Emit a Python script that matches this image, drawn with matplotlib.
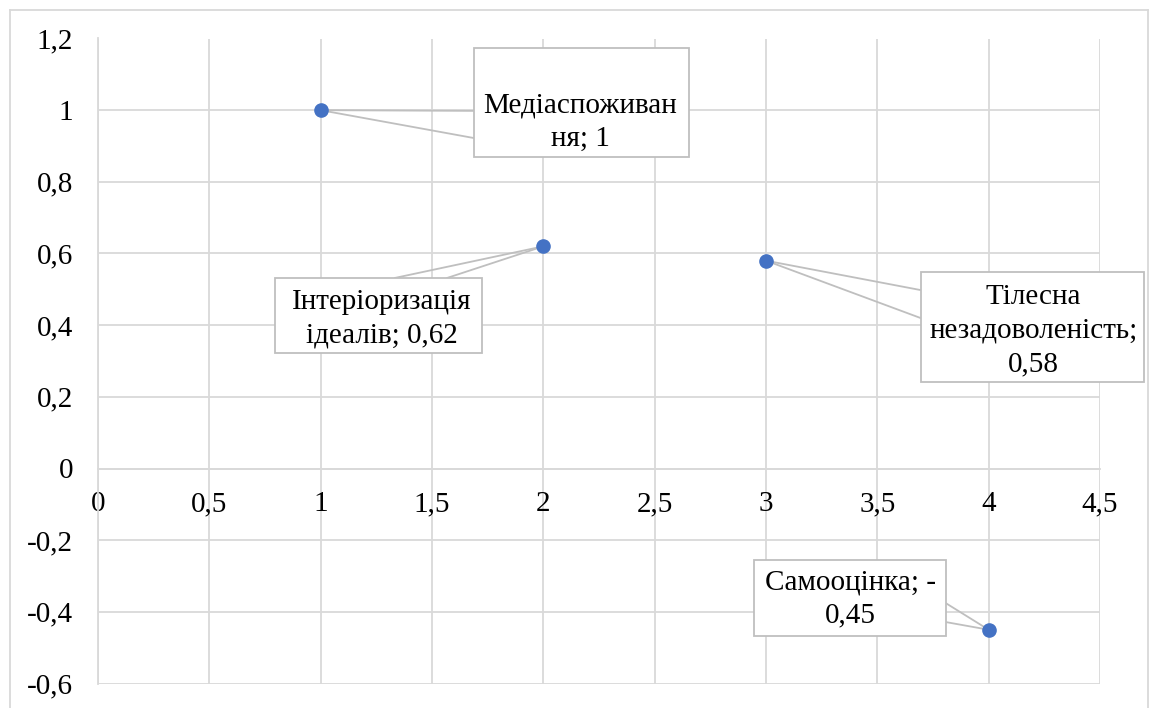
import matplotlib.pyplot as plt
from matplotlib.patches import Polygon
from matplotlib.lines import Line2D

plt.rcParams['font.family'] = ['Liberation Serif', 'DejaVu Serif']

# data
x_vals = [1, 2, 3, 4]
y_vals = [1.0, 0.62, 0.58, -0.45]
labels = ['Медіаспоживан\nня; 1',
          'Інтеріоризація\nідеалів; 0,62',
          'Тілесна\nнезадоволеність;\n0,58',
          'Самооцінка; -\n0,45']
x_ticks = [0, 0.5, 1, 1.5, 2, 2.5, 3, 3.5, 4, 4.5]
y_ticks = [-0.6, -0.4, -0.2, 0, 0.2, 0.4, 0.6, 0.8, 1.0, 1.2]

# callout boxes (x0, x1, y_bottom, y_top), text centre, pointer base points
boxes = [(1.690, 2.652, 0.869, 1.174),
         (0.796, 1.726, 0.322, 0.532),
         (3.694, 4.697, 0.241, 0.548),
         (2.948, 3.807, -0.468, -0.256)]
text_pos = [(2.166, 0.966), (1.276, 0.419), (4.202, 0.384), (3.380, -0.364)]
pointer = [[(1.690, 0.998), (1.690, 0.922)],
           [(1.335, 0.532), (1.569, 0.532)],
           [(3.694, 0.498), (3.694, 0.420)],
           [(3.807, -0.3755), (3.807, -0.4285)]]

grid_col = '#d9d9d9'
call_col = '#bfbfbf'

def fmt(v):
    s = ('%g' % v).replace('.', ',')
    return '0' if s in ('-0', '0') else s

fig = plt.figure(figsize=(11.49, 7.08), dpi=100)
W, H = 1149, 708
ax = fig.add_axes([98 / W, 1 - 683.5 / H, (1100 - 98) / W, (683.5 - 38.5) / H])
ax.set_xlim(0, 4.5)
ax.set_ylim(-0.6, 1.2)
for s in ['top', 'right']:
    ax.spines[s].set_visible(False)
ax.spines['bottom'].set_position(('data', 0))
ax.spines['bottom'].set_color(grid_col)
ax.spines['bottom'].set_linewidth(1.3)
ax.spines['left'].set_color(grid_col)
ax.spines['left'].set_linewidth(1.3)

ax.set_xticks(x_ticks)
ax.set_yticks(y_ticks)
ax.set_xticklabels([fmt(v) for v in x_ticks])
ax.set_yticklabels([fmt(v) for v in y_ticks])
ax.tick_params(axis='both', length=0, labelsize=21)
ax.tick_params(axis='y', pad=18)
ax.tick_params(axis='x', pad=16.5)
ax.grid(True, color=grid_col, linewidth=1.3)
ax.set_axisbelow(True)

for i in range(len(x_vals)):
    px, py = x_vals[i], y_vals[i]
    (a, b) = pointer[i]
    x0, x1, yb, yt = boxes[i]
    ax.plot([px, a[0]], [py, a[1]], color=call_col, lw=1.3, zorder=3, clip_on=False)
    ax.plot([px, b[0]], [py, b[1]], color=call_col, lw=1.3, zorder=3, clip_on=False)
    rect = Polygon([(x0, yb), (x1, yb), (x1, yt), (x0, yt)], closed=True,
                   facecolor='white', edgecolor=call_col, lw=1.3, zorder=4, clip_on=False)
    ax.add_patch(rect)
    tx, ty = text_pos[i]
    ax.text(tx, ty, labels[i], ha='center', va='center', fontsize=21,
            linespacing=1.38, zorder=5, clip_on=False)

ax.plot(x_vals, y_vals, 'o', color='#4472C4', markersize=9.5, zorder=6, clip_on=False)

# outer chart border
bx0, bx1, by = 10 / W, 1147.5 / W, 1 - 9.5 / H
for xs, ys in [([bx0, bx0], [0, by]), ([bx0, bx1], [by, by]), ([bx1, bx1], [by, 0])]:
    fig.add_artist(Line2D(xs, ys, color=grid_col, lw=1.3, transform=fig.transFigure))

fig.savefig('out.png', dpi=100)
